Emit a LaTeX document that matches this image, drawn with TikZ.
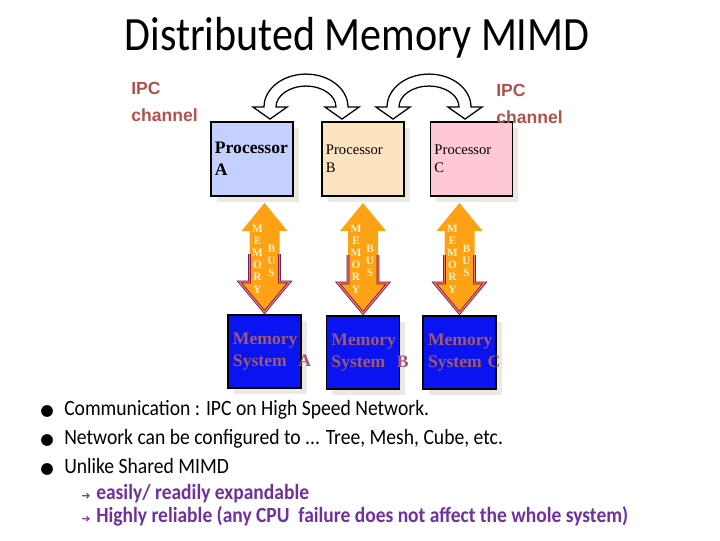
\documentclass[tikz,border=0pt]{standalone}
\usepackage{fontspec}
\setmainfont{Carlito}
\newfontfamily\titlefont[FakeStretch=0.88]{Carlito}
\newfontfamily\bodyfont[FakeStretch=0.9]{Carlito}
\newfontfamily\arialfont{Liberation Sans}
\newfontfamily\timesfont{Liberation Serif}
\newfontfamily\symfont{DejaVu Sans}
\usetikzlibrary{calc,shadows,positioning}

\definecolor{ipcred}{RGB}{176,82,76}
\definecolor{procA}{RGB}{196,208,255}
\definecolor{procB}{RGB}{252,228,192}
\definecolor{procC}{RGB}{255,200,212}
\definecolor{memblue}{RGB}{10,20,240}
\definecolor{memtext}{RGB}{158,88,112}
\definecolor{busorange}{RGB}{252,162,20}
\definecolor{busletter}{RGB}{255,242,200}
\definecolor{busedge}{RGB}{112,16,72}
\definecolor{bussalmon}{RGB}{242,122,100}
\definecolor{shadowgray}{RGB}{236,233,226}
\definecolor{subpurple}{RGB}{112,48,160}

% hollow IPC arrow, left tip at #1, span fixed
\newcommand{\ipcarrow}[1]{%
  \begin{scope}[shift={(#1)}]
    \draw[ipc] (-6,-12) -- (-17,-12) -- (0,0) -- (17,-12) -- (6,-12)
      arc[start angle=180, end angle=360, x radius=30, y radius=21]
      -- (55,-12) -- (72,0) -- (89,-12) -- (78,-12)
      arc[start angle=0, end angle=-180, x radius=42, y radius=33] -- cycle;
  \end{scope}}

% orange memory bus from (t#1) down to (u#1)
\newcommand{\membus}[1]{%
  \fill[busorange] (t#1) -- ($(t#1)+(23,28)$) -- ($(t#1)+(15,28)$)
    -- ($(u#1)+(15,-30)$) -- ($(u#1)+(25,-30)$) -- (u#1)
    -- ($(u#1)+(-25,-30)$) -- ($(u#1)+(-15,-30)$)
    -- ($(t#1)+(-15,28)$) -- ($(t#1)+(-23,28)$) -- cycle;
  \draw[busline] ($(u#1)+(-15,-58)$) -- ($(u#1)+(-15,-30)$) -- ($(u#1)+(-25,-30)$)
    -- (u#1) -- ($(u#1)+(25,-30)$) -- ($(u#1)+(15,-30)$) -- ($(u#1)+(15,-58)$);
  \node[busword] (mem#1) at ($(t#1)+(-7,56)$) {M\\E\\M\\O\\R\\Y};
  \node[busword] (bus#1) at ($(t#1)+(7,58)$) {B\\U\\S};}

\tikzset{
  ipc/.style={draw=black, fill=white, line width=0.9pt, line join=miter},
  proc/.style={draw=black, line width=1.3pt, text width=1.85cm, inner sep=0.1cm,
    minimum height=1.85cm, align=left,
    drop shadow={shadow xshift=0.14cm, shadow yshift=-0.14cm, fill=shadowgray, opacity=1}},
  procbig/.style={proc, font=\timesfont\bfseries\fontsize{12.5}{15.6}\selectfont},
  procsmall/.style={proc, font=\timesfont\fontsize{10.4}{12.8}\selectfont},
  memsys/.style={draw=black, fill=memblue, line width=1.3pt, text width=1.575cm,
    inner sep=0.125cm, minimum height=1.825cm, align=left, text=memtext,
    font=\timesfont\bfseries\fontsize{12.5}{15.6}\selectfont,
    drop shadow={shadow xshift=0.14cm, shadow yshift=-0.14cm, fill=shadowgray, opacity=1}},
  busline/.style={draw=busedge, line width=0.55pt, double=bussalmon, double distance=0.9pt, line join=miter},
  busword/.style={text=busletter, align=center, inner sep=0pt,
    font=\timesfont\bfseries\fontsize{8}{8.7}\selectfont},
  ipctext/.style={text=ipcred, align=left, anchor=west, inner sep=0pt,
    font=\arialfont\bfseries\fontsize{12.5}{19.2}\selectfont},
  item/.style={anchor=base west, inner sep=0pt, font=\bodyfont\fontsize{15.5}{18}\selectfont},
  subitem/.style={anchor=base west, inner sep=0pt, text=subpurple,
    font=\bodyfont\bfseries\fontsize{15.4}{18}\selectfont},
  dot/.style={anchor=base, inner sep=0pt, font=\symfont\fontsize{11}{12}\selectfont},
  arr/.style={anchor=base, inner sep=0pt, text=subpurple, font=\symfont\fontsize{7.5}{8}\selectfont}
}

\begin{document}
\begin{tikzpicture}[x=0.025cm, y=-0.025cm]
  \path[use as bounding box] (0,0) rectangle (720,540);

  \node[anchor=base, inner sep=0pt, font=\titlefont\fontsize{34}{40}\selectfont] (title) at (357,50) {Distributed Memory MIMD};

  % processors
  \node[procbig, fill=procA] (pa) at (252,159) {Processor\\A};
  \node[procsmall, fill=procB] (pb) at (363,159) {Processor\\B};
  \node[procsmall, fill=procC] (pc) at (471.5,159) {Processor\\C};

  % memory systems
  \node[memsys] (ma) at (264.5,351.5) {Memory\\System~~A};
  \node[memsys] (mb) at (363,352.5) {Memory\\System~~B};
  \node[memsys] (mc) at (459.5,352.5) {Memory\\System~C};

  % IPC channels
  \coordinate (ipc1) at ($(pa.north)+(18,-2)$);
  \coordinate (ipc2) at ($(pb.north)+(30,-2)$);
  \ipcarrow{ipc1}
  \ipcarrow{ipc2}
  \node[ipctext] (ipcl) at (131,101.5) {IPC\\channel};
  \node[ipctext] (ipcr) at (496,103.5) {IPC\\channel};

  % memory buses
  \foreach \n in {a,b,c}{
    \path (m\n.north |- p\n.south) ++(0,6) coordinate (t\n);
    \path (m\n.north) ++(0,-2) coordinate (u\n);
    \membus{\n}
  }

  % bullet list
  \node[dot] (d1) at (47,415) {●};
  \node[item] (i1) at (64,415) {Communication : IPC on High Speed Network.};
  \node[dot] (d2) at (47,444) {●};
  \node[item] (i2) at (64,444) {Network can be configured to ... Tree, Mesh, Cube, etc.};
  \node[dot] (d3) at (47,473) {●};
  \node[item] (i3) at (64,473) {Unlike Shared MIMD};
  \node[arr] (a1) at (86,499) {➔};
  \node[subitem] (s1) at (96,499) {easily/ readily expandable};
  \node[arr] (a2) at (86,522) {➔};
  \node[subitem] (s2) at (96,522) {Highly reliable (any CPU~ failure does not affect the whole system)};
\end{tikzpicture}
\end{document}
